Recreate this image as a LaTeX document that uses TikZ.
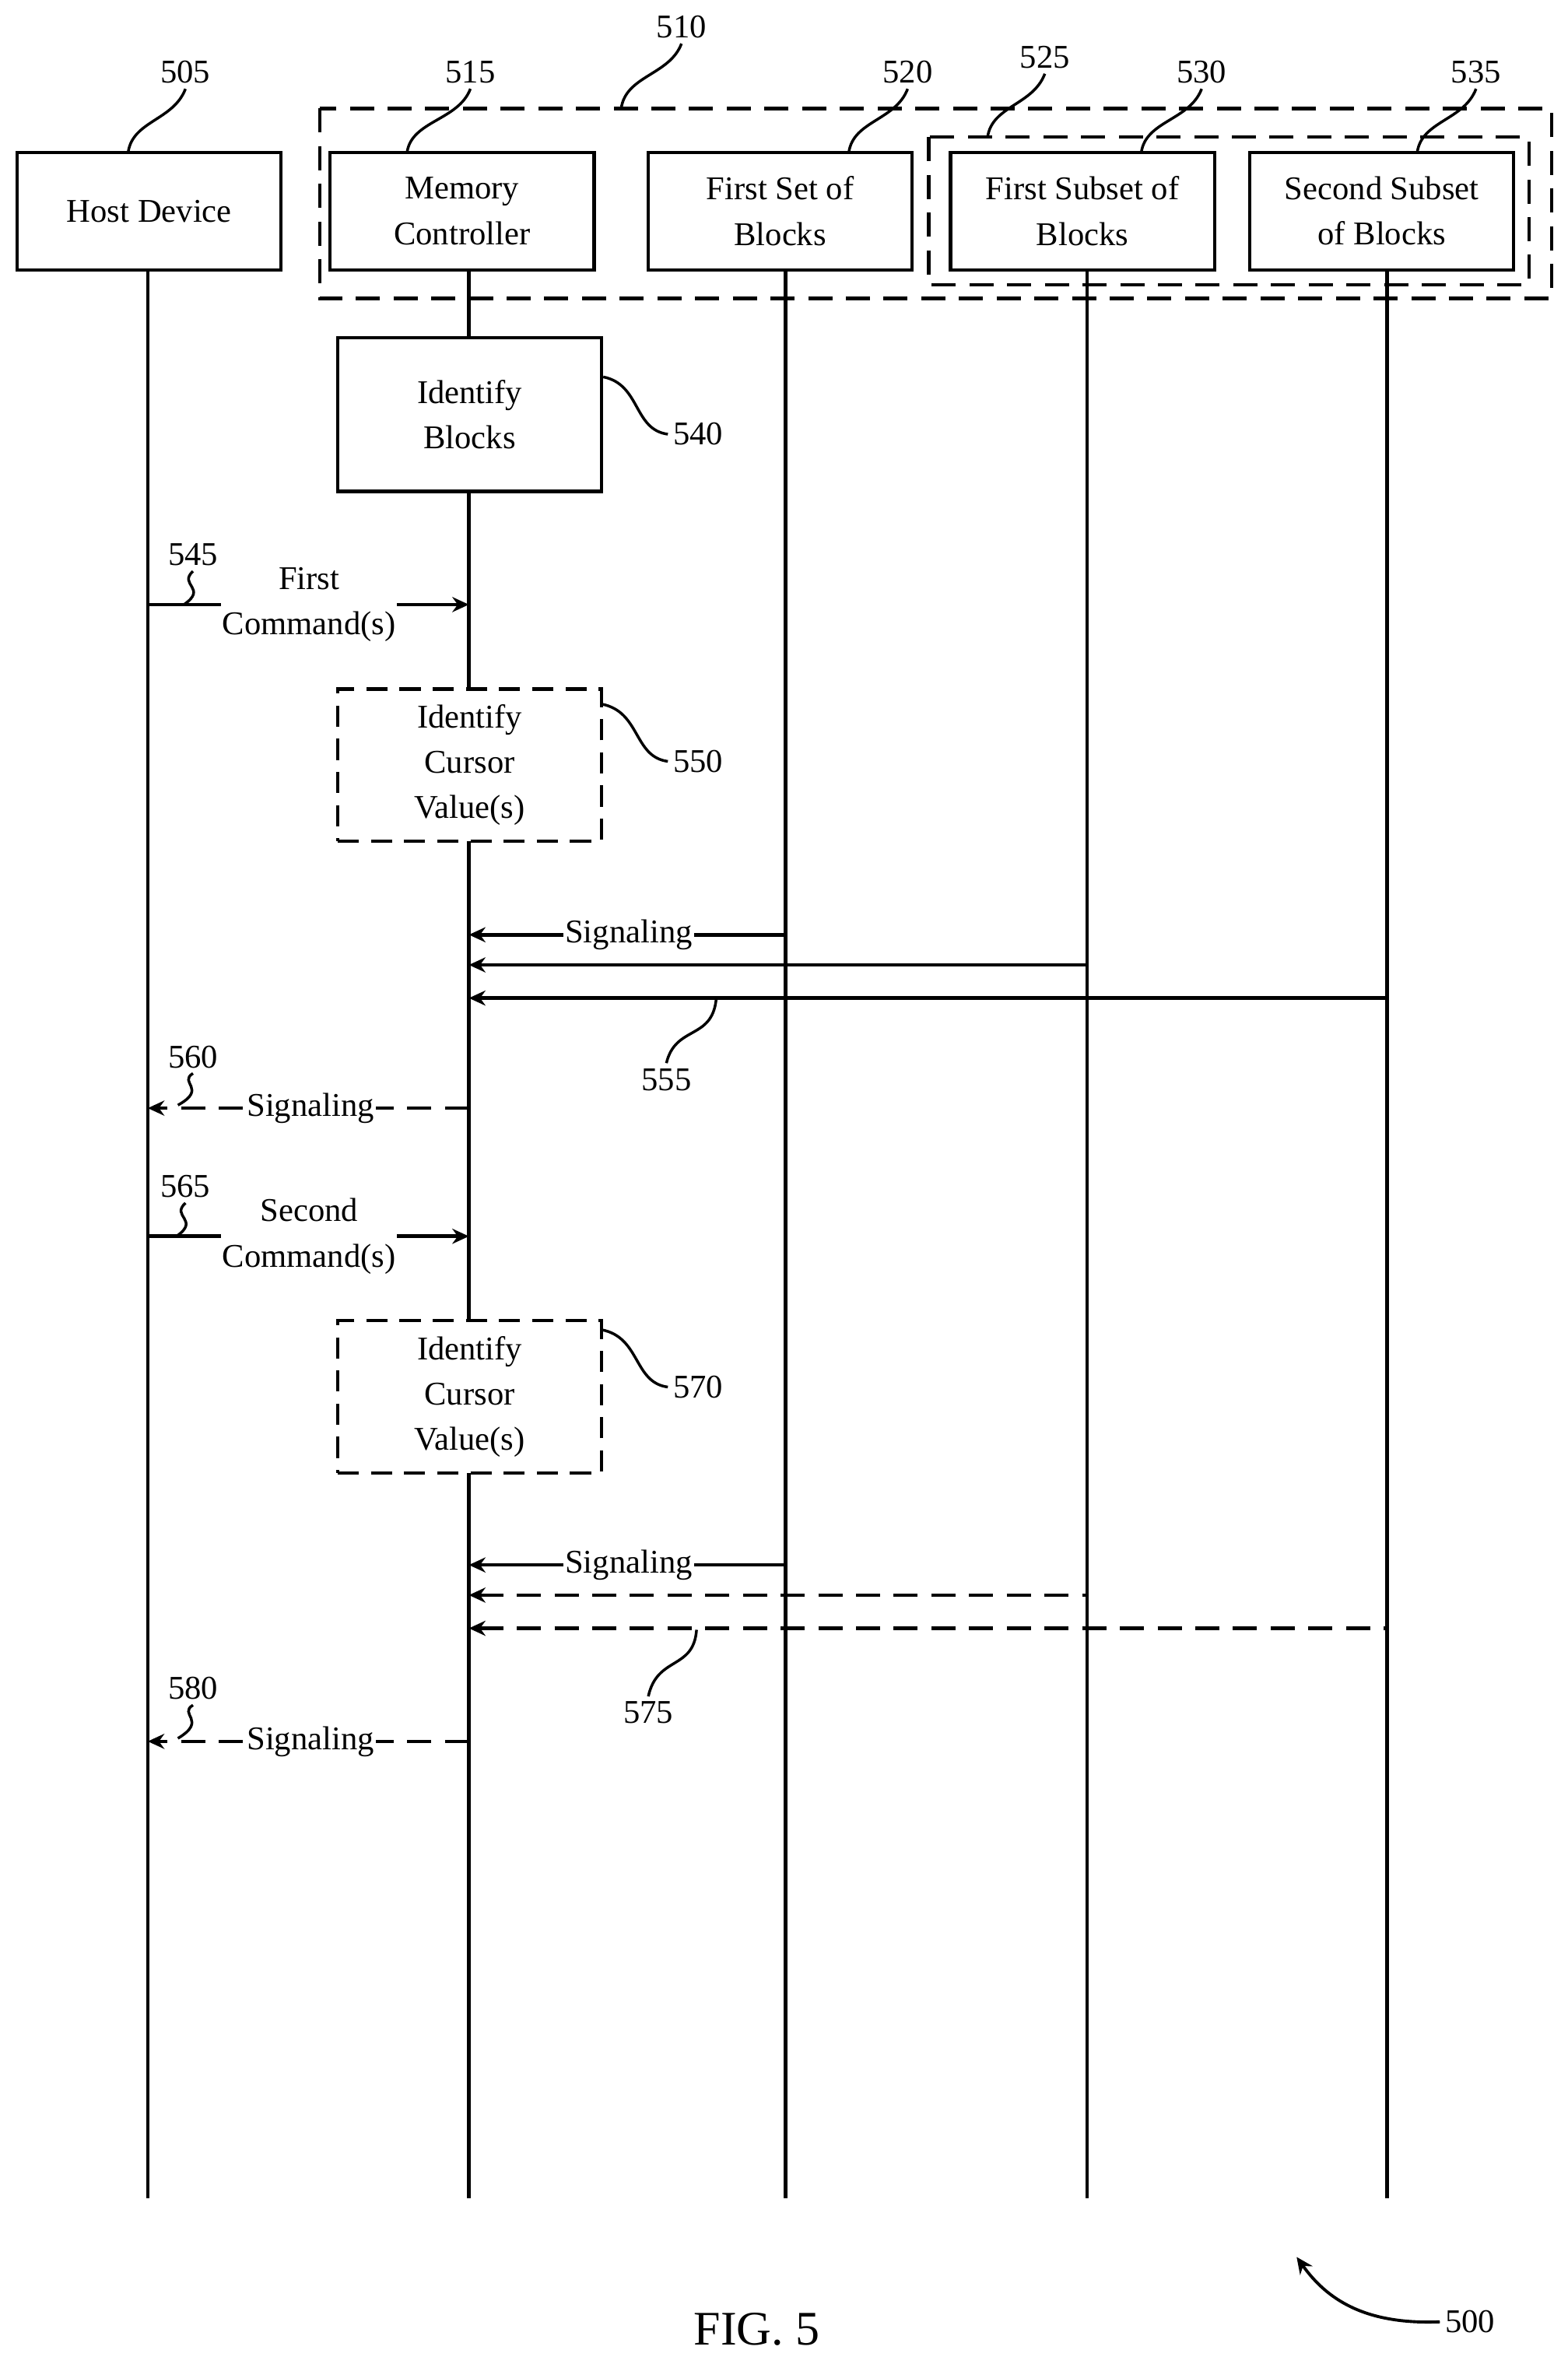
\documentclass[tikz,border=0pt]{standalone}
\usepackage{fontspec}
\setmainfont{Liberation Serif}
\usetikzlibrary{arrows.meta}
\begin{document}
\begin{tikzpicture}[x=1pt,y=-1pt,
  every node/.style={font=\fontsize{22}{30}\selectfont},
  box/.style={draw,line width=2.2pt,minimum width=175pt,minimum height=78pt,align=center,inner sep=0pt},
  dbox/.style={box,dash pattern=on 14pt off 8pt,minimum height=101pt},
  life/.style={line width=2.2pt},
  msg/.style={line width=2.4pt,-{Stealth[length=11pt,width=10pt]}},
  dmsg/.style={msg,dash pattern=on 16pt off 9pt},
  lbl/.style={fill=white,inner sep=1pt},
  lead/.style={line width=1.8pt}]
\useasboundingbox (0,0) rectangle (1040,1568);
% boxes
\node[box] (host) at (99,140) {Host Device};
\node[box] (mc) at (306.5,140) {Memory\\Controller};
\node[box] (fs) at (517.5,140) {First Set of\\Blocks};
\node[box] (fsub) at (718,140) {First Subset of\\Blocks};
\node[box] (ssub) at (916.5,140) {Second Subset\\of Blocks};
\draw[line width=2.2pt,dash pattern=on 16pt off 9pt] (212,72) rectangle (1029,198);
\draw[line width=2.2pt,dash pattern=on 16pt off 9pt] (616,91) rectangle (1014,189);
% lifelines
\coordinate (h0) at (98,179); \coordinate (h1) at (98,1458);
\coordinate (m0) at (311,179); \coordinate (m1) at (311,1458);
\coordinate (f0) at (521,179); \coordinate (f1) at (521,1458);
\coordinate (a0) at (721,179); \coordinate (a1) at (721,1458);
\coordinate (b0) at (920,179); \coordinate (b1) at (920,1458);
\foreach \p in {h,m,f,a,b} \draw[life] (\p0) -- (\p1);
% activity boxes
\node[box,minimum height=102pt,fill=white] (ib) at (311.5,275) {Identify\\Blocks};
\node[dbox,fill=white] (ic1) at (311.5,507.5) {Identify\\Cursor\\Value(s)};
\node[dbox,fill=white] (ic2) at (311.5,926.5) {Identify\\Cursor\\Value(s)};
% top labels
\node (l505) at (123,48) {505}; \draw[lead] (l505.south) .. controls (115,80) and (88,80) .. (85,101);
\node (l515) at (312,48) {515}; \draw[lead] (l515.south) .. controls (304,80) and (273,80) .. (270,101);
\node (l510) at (452,18) {510}; \draw[lead] (l510.south) .. controls (444,50) and (415,50) .. (412,72);
\node (l520) at (602,48) {520}; \draw[lead] (l520.south) .. controls (594,80) and (566,80) .. (563,101);
\node (l525) at (693,38) {525}; \draw[lead] (l525.south) .. controls (685,70) and (658,70) .. (655,91);
\node (l530) at (797,48) {530}; \draw[lead] (l530.south) .. controls (789,80) and (760,80) .. (757,101);
\node (l535) at (979,48) {535}; \draw[lead] (l535.south) .. controls (971,80) and (943,80) .. (940,101);
% side labels
\node (l540) at (463,288) {540}; \draw[lead] (ib.east |- 0,250) .. controls (425,255) and (420,285) .. (l540.west);
\node (l550) at (463,505) {550}; \draw[lead] (399,467) .. controls (425,472) and (420,502) .. (l550.west);
\node (l570) at (463,920) {570}; \draw[lead] (399,882) .. controls (425,887) and (420,917) .. (l570.west);
% first command
\coordinate (c1s) at (98,401); \coordinate (c1e) at (311,401);
\draw[msg] (c1s) -- (c1e);
\node[lbl,align=center] (t1) at (205,401) {First\\Command(s)};
\node (l545) at (128,368) {545}; \draw[lead] (l545.south) .. controls (118,388) and (138,390) .. (122,401);
% signaling 1
\coordinate (s1a) at (311,620); \coordinate (s1b) at (521,620);
\coordinate (s2a) at (311,640); \coordinate (s2b) at (721,640);
\coordinate (s3a) at (311,662); \coordinate (s3b) at (920,662);
\draw[msg,{Stealth[length=11pt,width=10pt]}-] (s1a) -- (s1b);
\node[lbl] at (417,620) {Signaling};
\draw[msg,{Stealth[length=11pt,width=10pt]}-] (s2a) -- (s2b);
\draw[msg,{Stealth[length=11pt,width=10pt]}-] (s3a) -- (s3b);
\node (l555) at (442,716) {555}; \draw[lead] (475,663) .. controls (472,690) and (448,680) .. (l555.north);
% 560
\coordinate (r1s) at (311,735); \coordinate (r1e) at (98,735);
\draw[dmsg] (r1s) -- (r1e);
\node[lbl] at (206,735) {Signaling};
\node (l560) at (128,701) {560}; \draw[lead] (l560.south) .. controls (118,718) and (138,722) .. (118,733);
% second command
\coordinate (c2s) at (98,820); \coordinate (c2e) at (311,820);
\draw[msg] (c2s) -- (c2e);
\node[lbl,align=center] at (205,820) {Second\\Command(s)};
\node (l565) at (123,787) {565}; \draw[lead] (l565.south) .. controls (113,807) and (133,809) .. (117,820);
% signaling 2
\coordinate (u1a) at (311,1038); \coordinate (u1b) at (521,1038);
\coordinate (u2a) at (311,1058); \coordinate (u2b) at (721,1058);
\coordinate (u3a) at (311,1080); \coordinate (u3b) at (920,1080);
\draw[msg,{Stealth[length=11pt,width=10pt]}-] (u1a) -- (u1b);
\node[lbl] at (417,1038) {Signaling};
\draw[dmsg,{Stealth[length=11pt,width=10pt]}-] (u2a) -- (u2b);
\draw[dmsg,{Stealth[length=11pt,width=10pt]}-] (u3a) -- (u3b);
\node (l575) at (430,1136) {575}; \draw[lead] (462,1081) .. controls (460,1108) and (436,1098) .. (l575.north);
% 580
\coordinate (r2s) at (311,1155); \coordinate (r2e) at (98,1155);
\draw[dmsg] (r2s) -- (r2e);
\node[lbl] at (206,1155) {Signaling};
\node (l580) at (128,1120) {580}; \draw[lead] (l580.south) .. controls (118,1137) and (138,1141) .. (118,1153);
% figure
\node[font=\fontsize{32}{36}\selectfont] (fig) at (502,1545) {FIG. 5};
\node (l500) at (975,1540) {500};
\draw[line width=2pt,-{Stealth[length=11pt,width=10pt]}] (l500.west) .. controls (905,1542) and (880,1525) .. (860,1497);
\end{tikzpicture}
\end{document}
